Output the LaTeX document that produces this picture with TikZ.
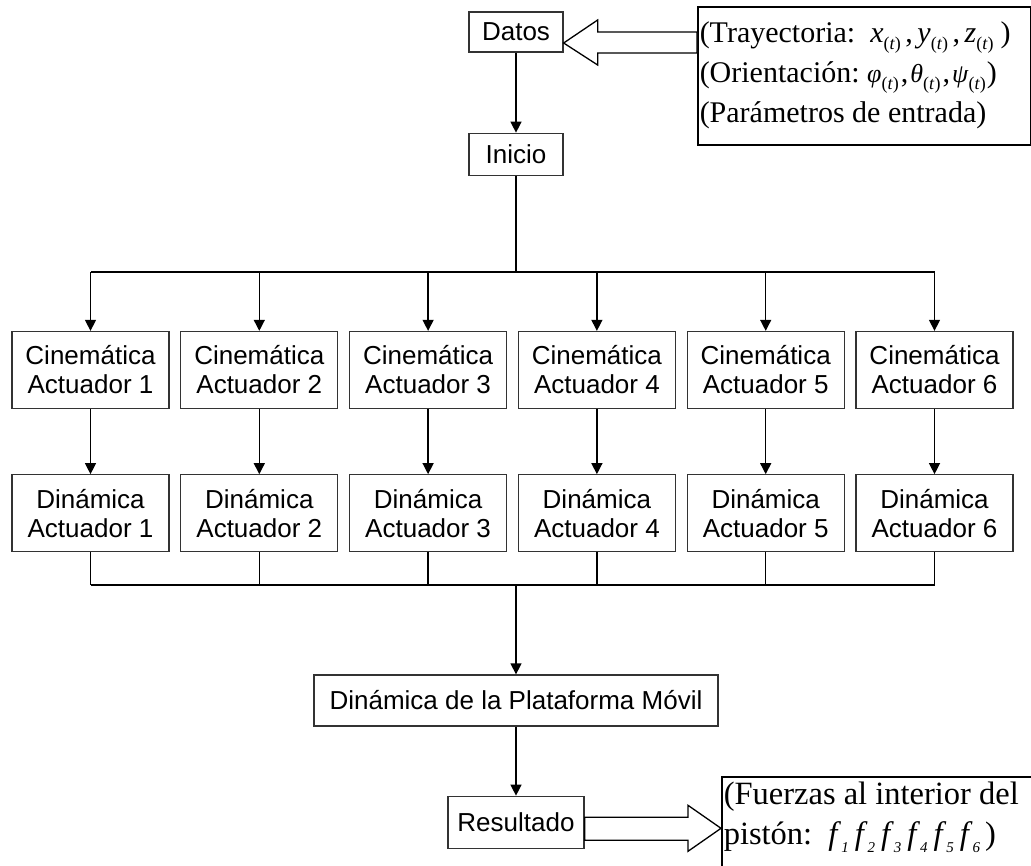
\documentclass[tikz,border=0pt]{standalone}
\usepackage{fontspec}
\setmainfont{Liberation Serif}
\setsansfont{Liberation Sans}
\usetikzlibrary{positioning,arrows.meta,calc}

\newcommand\subt{\raisebox{-7pt}{\fontsize{18}{18}\selectfont(\textit{t})}}
\newcommand\subn[1]{\raisebox{-8pt}{\fontsize{15}{15}\selectfont\textit{#1}}}
\newcommand\coma[1]{\kern#1,\kern#1}
\newcommand\griega[1]{{\fontsize{26}{40}\selectfont\textit{#1}}}

\tikzset{
  caja/.style={draw=black!80, line width=1.3pt, fill=white, font=\sffamily\fontsize{26}{29}\selectfont, align=center, inner sep=0pt},
  bloque/.style={caja, minimum width=157pt, minimum height=77pt},
  flecha/.style={line width=1.3pt, -{Triangle[width=11pt,length=11pt]}},
  linea/.style={line width=1.3pt},
  hueca/.style={draw=black, line width=1.3pt, fill=white, line join=miter},
  nota/.style={draw=black, line width=1.5pt, align=flush left, inner xsep=2pt, anchor=north west}
}

\begin{document}
\begin{tikzpicture}[x=1pt,y=-1pt]
\useasboundingbox (0,0) rectangle (1031,865);

\node[caja, minimum width=94pt, minimum height=40pt] (datos) at (516,32) {Datos};
\node[caja, minimum width=94pt, minimum height=42pt, below=80pt of datos] (inicio) {Inicio};
\coordinate (busarriba) at (516,272);
\coordinate (busabajo) at (516,585);

\foreach \i in {1,...,6}{
  \node[bloque] (c\i) at ({90.5+168.8*(\i-1)},370) {Cinemática\\Actuador \i};
  \node[bloque, below=65pt of c\i] (d\i) {Dinámica\\Actuador \i};
  \draw[flecha] (c\i.north |- busarriba) -- (c\i);
  \draw[flecha] (c\i) -- (d\i);
  \draw[linea] (d\i) -- (d\i.south |- busabajo);
}

\draw[flecha] (datos) -- (inicio);
\draw[linea] (inicio) -- (busarriba);
\draw[linea] (c1.north |- busarriba) -- (c6.north |- busarriba);
\draw[linea] (d1.south |- busabajo) -- (d6.south |- busabajo);

\node[caja, minimum width=404pt, minimum height=51pt] (plataforma) at (516,700.5) {Dinámica de la Plataforma Móvil};
\node[caja, minimum width=136pt, minimum height=52pt, below=69pt of plataforma] (resultado) {Resultado};
\draw[flecha] (busabajo) -- (plataforma);
\draw[flecha] (plataforma) -- (resultado);

\node[nota, font=\fontsize{30}{40}\selectfont, text width=329pt, minimum height=138pt] (entrada) at (697,6)
  {\mbox{(Trayectoria:\ \ \textit{x}\subt\coma{4.5pt}\textit{y}\subt\coma{4.5pt}\textit{z}\subt\kern7pt)}\\
   \mbox{(Orientación:\ \griega{φ}\subt\coma{2pt}\griega{θ}\subt\coma{2pt}\griega{ψ}\subt\kern1pt)}\\
   (Parámetros de entrada)};
\node[nota, font=\fontsize{32.5}{40}\selectfont, text width=340pt, inner ysep=5pt] (fuerzas) at (721,776)
  {(Fuerzas al interior del\\
   \mbox{pistón:\ \ \textit{f}\subn{1}\kern6pt\textit{f}\subn{2}\kern6pt\textit{f}\subn{3}\kern6pt\textit{f}\subn{4}\kern6pt\textit{f}\subn{5}\kern6pt\textit{f}\subn{6}\kern5pt)}\rule[-40pt]{0pt}{40pt}};

\coordinate (pd) at ($(datos.east)+(0,11)$);
\draw[hueca] (pd) -- ++(34,-23) -- ++(0,12) -- ($(pd -| entrada.west)+(0,-11)$)
  -- ($(pd -| entrada.west)+(0,10)$) -- ($(pd)+(34,10)$) -- ++(0,12) -- cycle;

\coordinate (pr) at ($(resultado.east)+(0,6)$);
\coordinate (pf) at (pr -| fuerzas.west);
\draw[hueca] ($(pr)+(0,-11)$) -- ($(pf)+(-33,-11)$) -- ++(0,-12) -- (pf)
  -- ($(pf)+(-33,23)$) -- ++(0,-11) -- ($(pr)+(0,12)$) -- cycle;
\end{tikzpicture}
\end{document}
